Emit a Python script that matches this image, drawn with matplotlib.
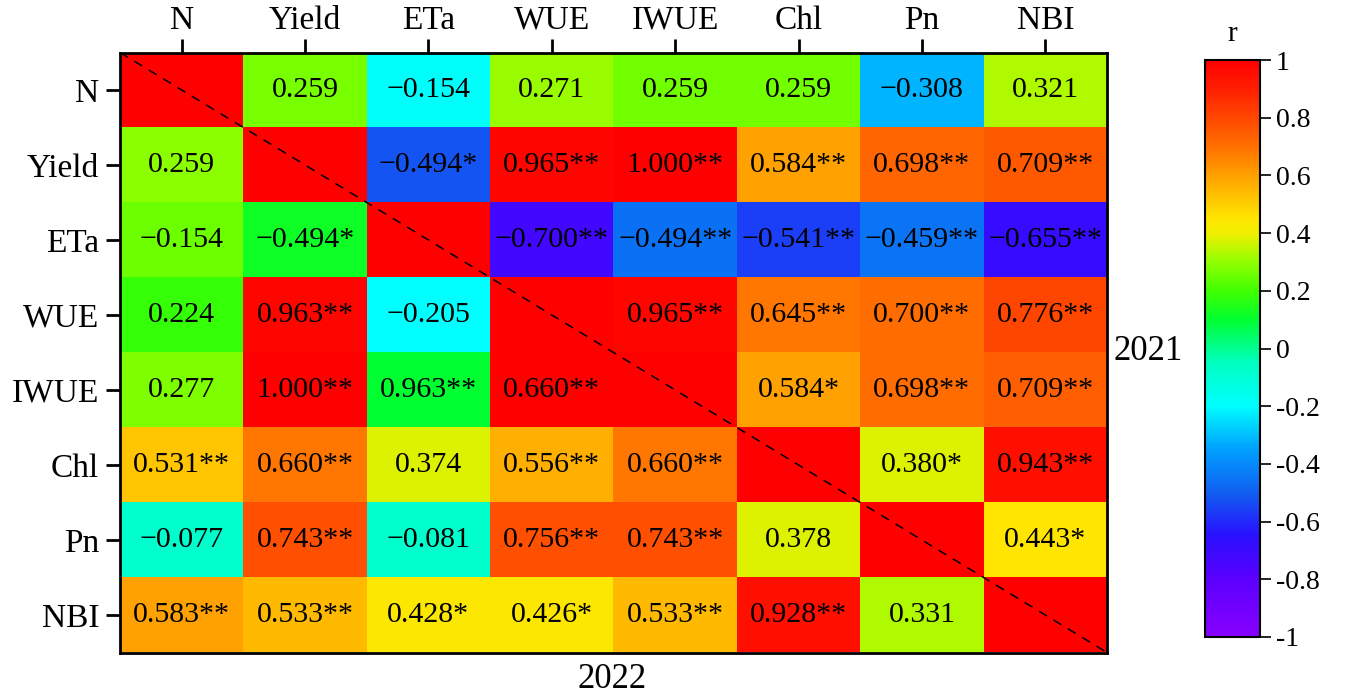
import numpy as np
import matplotlib
matplotlib.use('Agg')
import matplotlib.pyplot as plt
from matplotlib.colors import LinearSegmentedColormap

plt.rcParams['font.family'] = ['Liberation Serif', 'DejaVu Serif']

variables = ['N', 'Yield', 'ETa', 'WUE', 'IWUE', 'Chl', 'Pn', 'NBI']

# shading value of each cell
color_values = [
    [1.00, 0.27, -0.19, 0.31, 0.26, 0.26, -0.32, 0.33],
    [0.29, 1.00, -0.52, 0.98, 1.00, 0.60, 0.72, 0.75],
    [0.25, 0.12, 1.00, -0.72, -0.46, -0.56, -0.45, -0.68],
    [0.18, 0.98, -0.20, 1.00, 0.98, 0.68, 0.71, 0.80],
    [0.28, 1.00, 0.10, 1.00, 1.00, 0.60, 0.71, 0.74],
    [0.52, 0.68, 0.38, 0.57, 0.68, 1.00, 0.38, 0.95],
    [-0.08, 0.78, -0.08, 0.78, 0.78, 0.38, 1.00, 0.45],
    [0.60, 0.54, 0.44, 0.44, 0.54, 0.95, 0.33, 1.00],
]

# printed coefficients
cell_labels = [
    ['', '0.259', '\u22120.154', '0.271', '0.259', '0.259', '\u22120.308', '0.321'],
    ['0.259', '', '\u22120.494*', '0.965**', '1.000**', '0.584**', '0.698**', '0.709**'],
    ['\u22120.154', '\u22120.494*', '', '\u22120.700**', '\u22120.494**', '\u22120.541**', '\u22120.459**', '\u22120.655**'],
    ['0.224', '0.963**', '\u22120.205', '', '0.965**', '0.645**', '0.700**', '0.776**'],
    ['0.277', '1.000**', '0.963**', '0.660**', '', '0.584*', '0.698**', '0.709**'],
    ['0.531**', '0.660**', '0.374', '0.556**', '0.660**', '', '0.380*', '0.943**'],
    ['\u22120.077', '0.743**', '\u22120.081', '0.756**', '0.743**', '0.378', '', '0.443*'],
    ['0.583**', '0.533**', '0.428*', '0.426*', '0.533**', '0.928**', '0.331', ''],
]

cbar_ticks = [1, 0.8, 0.6, 0.4, 0.2, 0, -0.2, -0.4, -0.6, -0.8, -1]
cbar_ticklabels = ['1', '0.8', '0.6', '0.4', '0.2', '0', '-0.2', '-0.4', '-0.6', '-0.8', '-1']

stops = [(-1.0, '#8800ff'), (-0.8, '#5a00ff'), (-0.65, '#2a10ff'), (-0.5, '#1060f0'),
         (-0.35, '#00a0ff'), (-0.2, '#00ffff'), (-0.05, '#00ffc0'), (0.1, '#00ff30'),
         (0.2, '#40ff00'), (0.3, '#90ff00'), (0.4, '#f0f000'), (0.45, '#ffe600'),
         (0.55, '#ffb800'), (0.62, '#ff9800'), (0.7, '#ff7000'), (0.8, '#ff4800'),
         (0.9, '#ff2000'), (1.0, '#ff0000')]
cmap = LinearSegmentedColormap.from_list(
    'rb', [((v + 1) / 2, c) for v, c in stops], N=256)

W, H = 1347, 700
fig = plt.figure(figsize=(W / 100, H / 100), dpi=100)
ax = fig.add_axes([120 / W, (H - 652.5) / H, (1107 - 120) / W, 600 / H])

data = np.array(color_values)
n = len(variables)
im = ax.imshow(data, cmap=cmap, vmin=-1, vmax=1, aspect='auto',
               extent=(-0.5, n - 0.5, n - 0.5, -0.5), interpolation='nearest')

for i in range(n):
    for j in range(n):
        if cell_labels[i][j]:
            ax.text(j, i, cell_labels[i][j], ha='center', va='center',
                    fontsize=21.5, color='black')

ax.plot([-0.5, n - 0.5], [-0.5, n - 0.5], ls=(0, (6, 5)), color='black', lw=1.1)

ax.set_xlim(-0.5, n - 0.5)
ax.set_ylim(n - 0.5, -0.5)
ax.set_xticks(range(n))
ax.set_yticks(range(n))
ax.set_xticklabels(variables, fontsize=24)
ax.set_yticklabels(variables, fontsize=24)
ax.xaxis.tick_top()
ax.tick_params(axis='both', direction='out', length=10, width=2, pad=5)
ax.tick_params(axis='x', pad=2)
for s in ax.spines.values():
    s.set_linewidth(2)

fig.text(1148 / W, 1 - 352 / H, '2021', fontsize=25, ha='center', va='center')
fig.text(612 / W, 1 - 680 / H, '2022', fontsize=25, ha='center', va='center')

cax = fig.add_axes([1205 / W, (H - 637) / H, 55 / W, 577 / H])
cb = fig.colorbar(im, cax=cax)
cb.set_ticks(cbar_ticks)
cb.set_ticklabels(cbar_ticklabels)
cb.outline.set_linewidth(1.5)
cax.tick_params(labelsize=20, length=8, width=1.2, direction='out')
cax.set_title('r', fontsize=21, pad=14)

fig.savefig('out.png', dpi=100)
